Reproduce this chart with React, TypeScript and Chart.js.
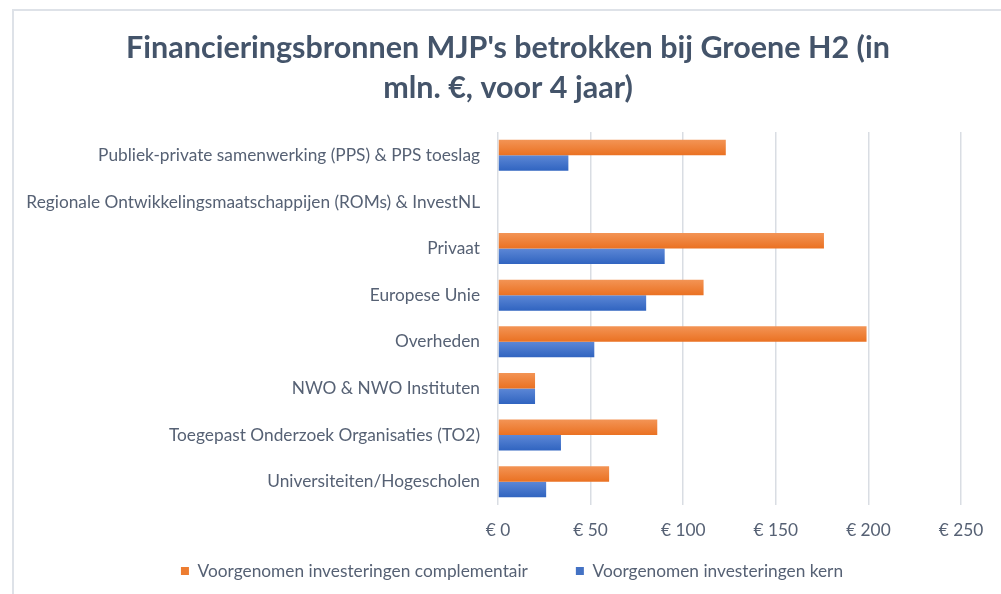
import React, { useEffect, useRef } from 'react';
import { Chart, registerables } from 'chart.js';

Chart.register(...registerables);

const categories = [
  'Publiek-private samenwerking (PPS) & PPS toeslag',
  'Regionale Ontwikkelingsmaatschappijen (ROMs) & InvestNL',
  'Privaat',
  'Europese Unie',
  'Overheden',
  'NWO & NWO Instituten',
  'Toegepast Onderzoek Organisaties (TO2)',
  'Universiteiten/Hogescholen',
];

const complementair = [123, 0, 176, 111, 199, 20, 86, 60];
const kern = [38, 0, 90, 80, 52, 20, 34, 26];

const xTickValues = [0, 50, 100, 150, 200, 250];
const currencyPrefix = '€ ';

const titleLines = ["Financieringsbronnen MJP's betrokken bij Groene H2 (in", 'mln. €, voor 4 jaar)'];
const seriesNames = ['Voorgenomen investeringen complementair', 'Voorgenomen investeringen kern'];

const ORANGE = '#ED7D31';
const ORANGE_LIGHT = '#F39455';
const ORANGE_DARK = '#EA7122';
const BLUE = '#4472C4';
const BLUE_LIGHT = '#5C87D6';
const BLUE_DARK = '#3064C0';
const TITLE_COLOR = '#44546A';
const TEXT_COLOR = '#566174';
const GRID_COLOR = '#D9DDE3';
const FONT = 'Lato';
const CAT_PCT = 0.665;
const LEGEND_PAD = 48;
const LABEL_SIZE = 17.3;
const TITLE_SIZE = 30.5;

const makeBg = (light: string, dark: string, dsIndex: number) => (c: any) => {
  const chart = c.chart;
  const ca = chart.chartArea;
  const ys = chart.scales && chart.scales.y;
  if (!ca || !ys || c.dataIndex === undefined) return dark;
  const center = ys.getPixelForValue(c.dataIndex);
  const cat = (ca.bottom - ca.top) / categories.length;
  const h = (cat * CAT_PCT) / 2;
  const y0 = dsIndex === 0 ? center - h : center;
  if (!isFinite(y0)) return dark;
  const g = chart.ctx.createLinearGradient(0, y0, 0, y0 + h);
  g.addColorStop(0, light);
  g.addColorStop(1, dark);
  return g;
};

const layoutFix = {
  id: 'layoutFix',
  afterLayout(chart: any) {
    const t = chart.titleBlock;
    if (t) {
      t.left = 16;
      t.right = 1000;
      t.width = 984;
    }
    const lg = chart.legend;
    if (lg) {
      lg.left = 24;
      lg.right = 1000;
      lg.width = 976;
      lg.top = 571 - LEGEND_PAD - LABEL_SIZE / 2;
      lg.height = 90;
      lg.bottom = lg.top + 90;
    }
  },
};

export default function App() {
  const ref = useRef<HTMLCanvasElement | null>(null);

  useEffect(() => {
    document.body.style.margin = '0';
    document.body.style.overflow = 'hidden';
    const canvas = ref.current;
    if (!canvas) return;
    const solid = [ORANGE, BLUE];
    const chart = new Chart(canvas, {
      type: 'bar',
      data: {
        labels: categories,
        datasets: [
          {
            label: seriesNames[0],
            data: complementair,
            backgroundColor: makeBg(ORANGE_LIGHT, ORANGE_DARK, 0),
            borderWidth: 0,
            categoryPercentage: CAT_PCT,
            barPercentage: 1,
          },
          {
            label: seriesNames[1],
            data: kern,
            backgroundColor: makeBg(BLUE_LIGHT, BLUE_DARK, 1),
            borderWidth: 0,
            categoryPercentage: CAT_PCT,
            barPercentage: 1,
          },
        ],
      },
      options: {
        indexAxis: 'y',
        responsive: false,
        animation: false,
        layout: { padding: { left: 0, right: 40, top: 0, bottom: 24 } },
        scales: {
          x: {
            min: 0,
            max: 250,
            afterBuildTicks: (scale: any) => {
              scale.ticks = xTickValues.map((v) => ({ value: v }));
            },
            afterFit: (scale: any) => {
              scale.height = 35;
            },
            grid: { color: GRID_COLOR, lineWidth: 1.5, drawTicks: false },
            border: { display: false },
            ticks: {
              padding: 15,
              color: TEXT_COLOR,
              font: { family: FONT, size: LABEL_SIZE },
              callback: (v: any) => currencyPrefix + v,
            },
          },
          y: {
            afterFit: (scale: any) => {
              scale.width = 498;
            },
            grid: { display: false, drawTicks: false },
            border: { display: false },
            ticks: {
              padding: 18,
              color: TEXT_COLOR,
              font: { family: FONT, size: LABEL_SIZE },
              autoSkip: false,
            },
          },
        },
        plugins: {
          title: {
            display: true,
            text: titleLines,
            color: TITLE_COLOR,
            font: { family: FONT, size: TITLE_SIZE, weight: 'bold', lineHeight: 40 / TITLE_SIZE },
            padding: { top: 28, bottom: 24 },
          },
          legend: {
            display: true,
            position: 'bottom',
            maxHeight: 30,
            labels: {
              boxWidth: 8,
              boxHeight: 8,
              padding: LEGEND_PAD,
              color: TEXT_COLOR,
              font: { family: FONT, size: LABEL_SIZE },
              generateLabels: (ch: any) =>
                ch.data.datasets.map((ds: any, i: number) => ({
                  text: ds.label,
                  fillStyle: solid[i],
                  strokeStyle: solid[i],
                  lineWidth: 0,
                  hidden: false,
                  datasetIndex: i,
                  fontColor: TEXT_COLOR,
                })),
            },
          },
          tooltip: { enabled: false },
        },
      },
      plugins: [layoutFix],
    } as any);
    return () => chart.destroy();
  }, []);

  return (
    <div style={{ position: 'relative', width: 1001, height: 594, overflow: 'hidden', background: '#fff' }}>
      <div
        style={{
          position: 'absolute',
          left: 12,
          top: 9,
          width: 1200,
          height: 800,
          borderLeft: '2px solid #DEE2E8',
          borderTop: '2px solid #DEE2E8',
          pointerEvents: 'none',
        }}
      />
      <canvas ref={ref} width={1001} height={594} style={{ position: 'absolute', left: 0, top: 0, display: 'block' }} />
    </div>
  );
}
